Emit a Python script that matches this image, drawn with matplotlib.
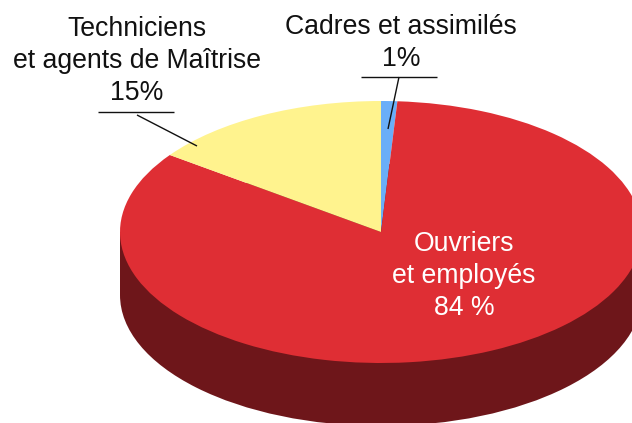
#!/usr/bin/env python3
import matplotlib.pyplot as plt
from matplotlib.patches import Ellipse

plt.rcParams['font.family'] = ['Liberation Sans', 'DejaVu Sans']

labels = ['Cadres et assimilés\n1%', 'Ouvriers\net employés\n84 %', 'Techniciens\net agents de Maîtrise\n15%']
shares = [1, 84, 15]
colors = ['#6AAEF8', '#DF2E34', '#FFF38E']

W, H = 632, 423
CX, CY = 381, 232   # pie centre in pixels
RX, RY = 261, 131
DEPTH = 63
WALL = '#6E161A'

fig = plt.figure(figsize=(W / 100, H / 100), dpi=100)
ax = fig.add_axes([0, 0, 1, 1])

# pie is drawn as a circle, the y limits squash it to the ellipse
ax.pie(shares, colors=colors, startangle=90, counterclock=False, radius=RX,
       center=(CX, 0), wedgeprops=dict(linewidth=0, zorder=3))
ax.set_aspect('auto')
k = RX / RY
ax.set_xlim(0, W)
ax.set_ylim((CY - H) * k, CY * k)

# side wall
ax.bar(CX, -DEPTH * k, width=2 * RX, color=WALL, linewidth=0, zorder=1)
ax.add_patch(Ellipse((CX, -DEPTH * k), 2 * RX, 2 * RX, color=WALL, linewidth=0, zorder=1))


def px(x, y):
    return x, (CY - y) * k


def leader(x, y):
    xs, ys = zip(*[px(a, b) for a, b in zip(x, y)])
    ax.plot(xs, ys, color='#111111', lw=1.0, zorder=4, solid_capstyle='butt')


leader([361, 437], [77, 77])
leader([399, 388], [77, 129])
leader([98, 174], [112, 112])
leader([137, 197], [115, 146])

for lab, pos, col in zip(labels, [(401, 43), (464, 276), (137, 61)], ['#111111', 'white', '#111111']):
    ax.text(*px(*pos), lab, ha='center', va='center', fontsize=19.2, color=col,
            linespacing=1.3, zorder=5)

fig.savefig('out.png', dpi=100)
